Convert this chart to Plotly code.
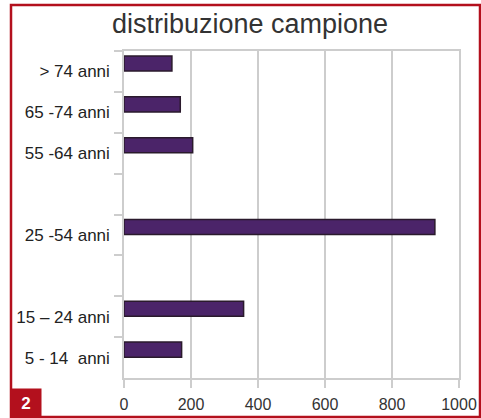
import plotly.graph_objects as go

# fasce d'eta' (gli spazi vuoti sono righe senza dati nel grafico originale)
fasce = ["> 74 anni", "65 -74 anni", "55 -64 anni", " ", "25 -54 anni", "  ",
         "15 \u2013 24 anni", "5 - 14  anni"]
valori = [143, 168, 205, None, 928, None, 357, 172]
x_ticks = [0, 200, 400, 600, 800, 1000]

grigio = "#cdcdcd"
rosso = "#b3101d"

fig = go.Figure(go.Bar(
    y=fasce, x=valori, orientation="h",
    offset=-0.38, width=0.37,
    marker=dict(color="#4b2469", line=dict(color="#2a1a2c", width=1.5)),
))

fig.update_layout(
    width=481, height=418,
    margin=dict(l=124, r=22, t=51, b=40, autoexpand=False),
    paper_bgcolor="white", plot_bgcolor="white",
    showlegend=False,
    font=dict(family="Liberation Sans, Arial, sans-serif", color="#222"),
    title=dict(text="distribuzione campione", xref="container", x=250 / 481,
               xanchor="center", yref="container", y=1 - 24 / 418,
               yanchor="middle", font=dict(size=27, color="#333")),
)

fig.update_xaxes(
    range=[0, 1000], tickvals=x_ticks, automargin=False,
    showgrid=True, gridcolor=grigio, gridwidth=1.5,
    showline=True, linecolor=grigio, linewidth=1.5, mirror=True,
    ticks="outside", ticklen=8, tickcolor=grigio, tickwidth=1.5,
    ticklabelstandoff=3,
    tickfont=dict(size=16, color="#333"), zeroline=False,
)
fig.update_yaxes(
    type="category", categoryorder="array", categoryarray=fasce,
    autorange="reversed", automargin=False,
    tickson="boundaries", ticks="outside", ticklen=8,
    tickcolor=grigio, tickwidth=1.5,
    showgrid=False, showline=True, linecolor=grigio, linewidth=1.5,
    mirror=True, ticklabelstandoff=9,
    tickfont=dict(size=17, color="#222"),
)

# cornice rossa
fig.add_shape(type="rect", xref="paper", yref="paper",
              x0=(11 - 124) / 335, x1=(480 - 124) / 335,
              y0=(378 - 417) / 327, y1=(378 - 5) / 327,
              line=dict(color=rosso, width=2.5), layer="below")
# riquadro numerato
fig.add_annotation(text="<b>2</b>", xref="paper", yref="paper",
                   x=(26 - 124) / 335, y=(378 - 403.5) / 327,
                   xanchor="center", yanchor="middle",
                   width=30, height=29, bgcolor=rosso, borderpad=0,
                   showarrow=False, font=dict(size=17, color="white"))

fig.write_html(
    "out.html",
    config=dict(displayModeBar=False, responsive=False),
    post_script=("document.documentElement.style.margin='0';"
                 "document.body.style.margin='0';"
                 "document.documentElement.style.overflow='hidden';"
                 "document.body.style.overflow='hidden';"),
)
